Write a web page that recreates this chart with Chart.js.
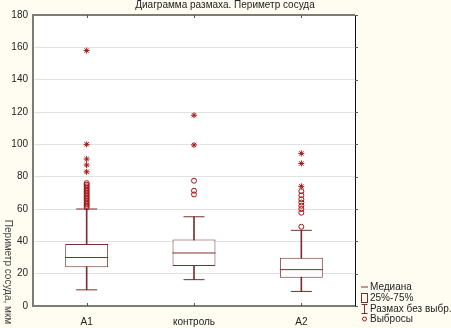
<!DOCTYPE html>
<html>
<head>
<meta charset="utf-8">
<script src="https://cdn.jsdelivr.net/npm/chart.js@4.4.1/dist/chart.umd.min.js"></script>
<style>
  html, body { margin: 0; padding: 0; background: #fffdf2; }
  #wrap { width: 451px; height: 328px; }
</style>
</head>
<body>
<div id="wrap"><canvas id="boxChart" width="451" height="328"></canvas></div>
<script>
var groups = ['A1', 'контроль', 'A2'];
var whiskerLow = [10, 16.3, 9];
var whiskerHigh = [60, 55.2, 46.8];
var q1 = [24, 24.7, 17.5];
var q3 = [38.3, 41.2, 29.9];
var medians = [30, 32.8, 22.5];
var outliers = [
    [61, 62, 63, 64, 65, 66, 67, 68, 69, 70, 71, 72, 73, 74, 75, 76],
    [69, 71.3, 77.5],
    [49, 57.7, 60, 62, 64, 66, 68.5, 71]
];
var extremes = [
    [83, 87.2, 90.9, 100, 158],
    [99.6, 118],
    [74, 88.2, 94.4]
];
var yTicks = [0, 20, 40, 60, 80, 100, 120, 140, 160, 180];
var legendItems = ['Медиана', '25%-75%', 'Размах без выбр.', 'Выбросы'];

var boxColor = '#7b2f2f';
var pointColor = '#a31515';

function toPoints(lists) {
    var pts = [];
    lists.forEach(function (vals, i) {
        vals.forEach(function (v) { pts.push({ x: groups[i], y: v }); });
    });
    return pts;
}

var capPoints = [];
groups.forEach(function (g, i) {
    capPoints.push({ x: g, y: whiskerLow[i] });
    capPoints.push({ x: g, y: whiskerHigh[i] });
});

var framePlugin = {
    id: 'frame',
    afterDraw: function (chart) {
        var c = chart.ctx, a = chart.chartArea;
        c.save();
        // top and right frame
        c.strokeStyle = '#7d7d75';
        c.lineWidth = 2;
        c.beginPath();
        c.moveTo(a.left, a.top);
        c.lineTo(a.right, a.top);
        c.stroke();
        c.strokeStyle = '#111';
        c.lineWidth = 1;
        c.beginPath();
        c.moveTo(a.right + 0.5, a.top);
        c.lineTo(a.right + 0.5, a.bottom);
        c.stroke();
        // small ticks
        var xs = chart.scales.x, ys = chart.scales.y;
        c.strokeStyle = '#555';
        groups.forEach(function (g, i) {
            var px = Math.round(xs.getPixelForValue(i)) + 0.5;
            c.beginPath(); c.moveTo(px, a.top); c.lineTo(px, a.top + 3); c.stroke();
            c.beginPath(); c.moveTo(px, a.bottom); c.lineTo(px, a.bottom - 3); c.stroke();
        });
        yTicks.forEach(function (t) {
            var py = Math.round(ys.getPixelForValue(t)) + 0.5;
            c.beginPath(); c.moveTo(a.right, py); c.lineTo(a.right + 3, py); c.stroke();
        });

        // title
        c.fillStyle = '#222';
        c.font = '10px "Liberation Sans", Arial, sans-serif';
        c.textAlign = 'center';
        c.textBaseline = 'middle';
        c.fillText('Диаграмма размаха. Периметр сосуда', 225, 5);

        // y axis title, reading downwards
        c.save();
        c.fillStyle = '#444';
        c.translate(8, 272);
        c.rotate(Math.PI / 2);
        c.fillText('Периметр сосуда, мкм', 0, 0);
        c.restore();

        // legend
        var lx = 365, rows = [287, 298, 309, 319];
        c.strokeStyle = boxColor;
        c.lineWidth = 1;
        c.beginPath(); c.moveTo(lx - 4, rows[0]); c.lineTo(lx + 3, rows[0]); c.stroke();
        c.strokeRect(lx - 3.5, rows[1] - 4.5, 6, 9);
        c.beginPath();
        c.moveTo(lx - 0.5, rows[2] - 5); c.lineTo(lx - 0.5, rows[2] + 5);
        c.moveTo(lx - 3.5, rows[2] - 4.5); c.lineTo(lx + 2.5, rows[2] - 4.5);
        c.moveTo(lx - 3.5, rows[2] + 4.5); c.lineTo(lx + 2.5, rows[2] + 4.5);
        c.stroke();
        c.strokeStyle = pointColor;
        c.beginPath(); c.arc(lx - 0.5, rows[3], 2, 0, Math.PI * 2); c.stroke();
        c.fillStyle = '#222';
        c.textAlign = 'left';
        legendItems.forEach(function (txt, i) {
            c.fillText(txt, lx + 5, rows[i]);
        });
        c.restore();
    }
};

new Chart(document.getElementById('boxChart').getContext('2d'), {
    type: 'bar',
    data: {
        labels: groups,
        datasets: [
            {
                label: 'whisker',
                data: groups.map(function (g, i) { return [whiskerLow[i], whiskerHigh[i]]; }),
                backgroundColor: boxColor,
                barThickness: 1,
                grouped: false,
                order: 5
            },
            {
                label: 'box',
                data: groups.map(function (g, i) { return [q1[i], q3[i]]; }),
                backgroundColor: '#ffffff',
                borderColor: boxColor,
                borderWidth: 1,
                borderSkipped: false,
                barPercentage: 0.4,
                categoryPercentage: 1,
                grouped: false,
                order: 4
            },
            {
                type: 'line',
                label: 'median',
                data: groups.map(function (g, i) { return { x: g, y: medians[i] }; }),
                showLine: false,
                pointStyle: 'line',
                pointRadius: 21.5,
                pointBorderColor: boxColor,
                pointBorderWidth: 1,
                order: 3
            },
            {
                type: 'line',
                label: 'caps',
                data: capPoints,
                showLine: false,
                pointStyle: 'line',
                pointRadius: 10.5,
                pointBorderColor: boxColor,
                pointBorderWidth: 1,
                order: 3
            },
            {
                type: 'line',
                label: 'outliers',
                data: toPoints(outliers),
                showLine: false,
                pointStyle: 'circle',
                pointRadius: 2.5,
                pointBorderColor: pointColor,
                pointBackgroundColor: 'rgba(255,255,255,0)',
                pointBorderWidth: 1,
                order: 1
            },
            {
                type: 'line',
                label: 'extremes',
                data: toPoints(extremes),
                showLine: false,
                pointStyle: 'star',
                pointRadius: 3,
                pointBorderColor: pointColor,
                pointBorderWidth: 1,
                order: 1
            }
        ]
    },
    options: {
        responsive: false,
        animation: false,
        layout: { autoPadding: false, padding: { top: 15, right: 96, left: 0, bottom: 0 } },
        plugins: {
            legend: { display: false },
            title: { display: false },
            tooltip: { enabled: false }
        },
        scales: {
            x: {
                grid: { display: false },
                border: { color: '#7d7d75', width: 2 },
                ticks: { color: '#222', font: { size: 10, family: '"Liberation Sans", Arial, sans-serif' }, padding: 2 },
                afterFit: function (s) { s.height = 22; }
            },
            y: {
                min: 0,
                max: 180,
                afterBuildTicks: function (s) { s.ticks = yTicks.map(function (v) { return { value: v }; }); },
                grid: { color: '#e2e2e2', drawTicks: false },
                border: { color: '#7d7d75', width: 2 },
                ticks: { color: '#222', font: { size: 10, family: '"Liberation Sans", Arial, sans-serif' }, padding: 5 },
                afterFit: function (s) { s.width = 33; }
            }
        }
    },
    plugins: [framePlugin, {
        id: 'plotBg',
        beforeDraw: function (chart) {
            var c = chart.ctx, a = chart.chartArea;
            c.save();
            c.fillStyle = '#fffdf2';
            c.fillRect(0, 0, chart.width, chart.height);
            c.fillStyle = '#ffffff';
            c.fillRect(a.left, a.top, a.right - a.left, a.bottom - a.top);
            c.restore();
        }
    }]
});
</script>
</body>
</html>
